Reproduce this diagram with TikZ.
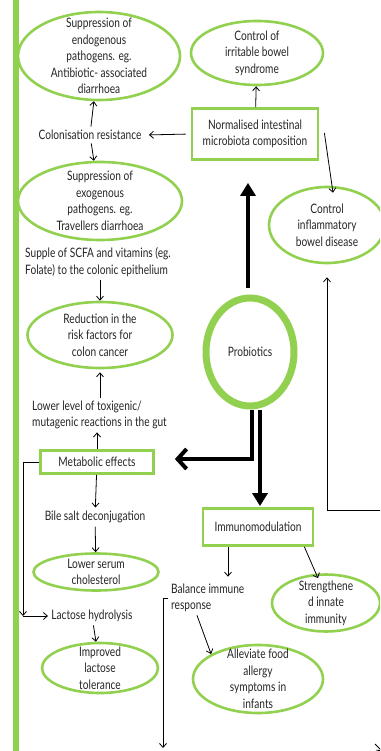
\documentclass[tikz,border=0pt]{standalone}
\usepackage{fontspec}
\setmainfont{Lato}[FakeStretch=0.78]
\usepackage{xcolor}
\usetikzlibrary{positioning, arrows.meta, shapes, calc}
\definecolor{leafgreen}{HTML}{92D050}

\begin{document}
\begin{tikzpicture}[
        x=1pt, y=-1pt,
        every node/.style={font=\fontsize{13}{16.5}\selectfont, text=black!85},
        outcome/.style={ellipse, draw=leafgreen, line width=2.6pt, inner sep=-40pt, align=center},
        effect/.style={rectangle, draw=leafgreen, line width=2.8pt, inner sep=2pt, align=center},
        note/.style={inner sep=3pt, align=left},
        link/.style={-{Straight Barb[length=4pt, width=7pt]}, line width=0.8pt, black},
        bigup/.style={-{Triangle[length=13pt, width=15pt]}, line width=4pt, black},
        bigleft/.style={-{Straight Barb[length=9pt, width=20pt, line width=4pt]}, line width=4pt, black}
    ]
    \useasboundingbox (0,0) rectangle (380,751);
    \clip (0,0) rectangle (380,751);
    \fill[white] (0,0) rectangle (380,751);

    % Side bar
    \fill[leafgreen] (13,0) rectangle (19,751);

    % Left column: colonisation resistance
    \node[outcome, minimum width=162, minimum height=88] (endo) at (99,56)
        {Suppression of\\endogenous\\pathogens. eg.\\Antibiotic- associated\\diarrhoea};
    \node (colres) at (90,135) {Colonisation resistance};
    \node[outcome, minimum width=164, minimum height=78] (exo) at (100,201)
        {Suppression of\\exogenous\\pathogens. eg.\\Travellers diarrhoea};

    % Left column: colon cancer
    \node[note, anchor=west] (scfa) at (22,262)
        {Supple of SCFA and vitamins (eg.\\Folate) to the colonic epithelium};
    \node[outcome, minimum width=145, minimum height=66] (colon) at (100,335)
        {Reduction in the\\risk factors for\\colon cancer};
    \node[note, anchor=west] (toxic) at (29,415)
        {Lower level of toxigenic/\\mutagenic reactions in the gut};

    % Left column: metabolic effects
    \node[effect, minimum width=113, minimum height=23] (metab) at (97,462) {Metabolic effects};
    \node (bile) at (95,517) {Bile salt deconjugation};
    \node[outcome, minimum width=125, minimum height=37] (chol) at (96,572)
        {Lower serum\\cholesterol};
    \node (lactose) at (92,616) {Lactose hydrolysis};
    \node[outcome, minimum width=116, minimum height=50] (tolerance) at (100,668)
        {Improved\\lactose\\tolerance};
    \coordinate (bend) at (23,616);

    % Right column
    \node[outcome, minimum width=132, minimum height=64] (ibs) at (257,53)
        {Control of\\irritable bowel\\syndrome};
    \node[effect, minimum width=126, minimum height=51] (normal) at (255,134)
        {Normalised intestinal\\microbiota composition};
    \node[outcome, minimum width=116, minimum height=76] (ibd) at (327,225)
        {Control\\inflammatory\\bowel disease};
    \node[ellipse, draw=leafgreen, line width=7pt, minimum width=88, minimum height=108,
        inner sep=-30pt] (probiotics) at (250,352) {Probiotics};
    \node[effect, minimum width=110, minimum height=37] (immuno) at (258,527) {Immunomodulation};
    \node[note, anchor=west] (balance) at (168,598) {Balance immune\\response};
    \node[outcome, minimum width=130, minimum height=68] (allergy) at (258,679)
        {Alleviate food\\allergy\\symptoms in\\infants};
    \node[outcome, minimum width=108, minimum height=57] (innate) at (326,603)
        {Strengthene\\d innate\\immunity};
    \coordinate (offright) at (385,510);
    \coordinate (offbottom) at (163,748);
    \coordinate (tickA) at (375,744);
    \coordinate (tickB) at (382,751);

    % Thick arrows out of probiotics
    \draw[bigup, shorten <=7pt, shorten >=22pt] ([xshift=-2pt]probiotics.north) -- ([xshift=-2pt]probiotics.north |- normal.south);
    \draw[bigleft, shorten >=20pt] ([xshift=2pt]probiotics.south) |- ([yshift=3pt]metab.east);
    \draw[bigup, shorten >=1pt] ([xshift=10pt]probiotics.south) -- ([xshift=10pt]probiotics.south |- immuno.north);

    % Thin links
    \draw[link] (colres) -- (endo);
    \draw[link] (colres) -- (exo);
    \draw[link, shorten <=5pt, shorten >=4pt] (normal.west) -- (colres.east);
    \draw[link] (scfa.south -| colon.north) -- (colon.north);
    \draw[link, shorten >=3pt] (toxic.north -| colon.south) -- (colon.south);
    \draw[link] (metab.north) -- (toxic.south -| metab.north);
    \draw[link] (metab) -- (bile);
    \draw[link] (bile) -- (chol);
    \draw[link] (lactose) -- (tolerance);
    \draw[link] (metab.west) -| (bend);
    \draw[link] (bend) -- (lactose.west);
    \draw[link] (normal) -- (ibs);
    \draw[link] ([shift={(5pt,1pt)}]normal.east) -- ([shift={(6pt,-7pt)}]ibd.north);
    \draw[link, shorten >=13pt] (offright) -| (ibd.south);
    \draw[link, shorten >=4pt] ([xshift=-30pt]immuno.south) -- ([xshift=-30pt]immuno.south |- balance.north);
    \draw[link] ([xshift=29pt]balance.south west) -- (allergy.north west);
    \draw[link] (balance.west) -| (offbottom);
    \draw[link] ([xshift=-10pt]immuno.south east) -- ([shift={(-8pt,-5pt)}]innate.north);
    \draw[link] (tickA) -- (tickB);
\end{tikzpicture}
\end{document}
